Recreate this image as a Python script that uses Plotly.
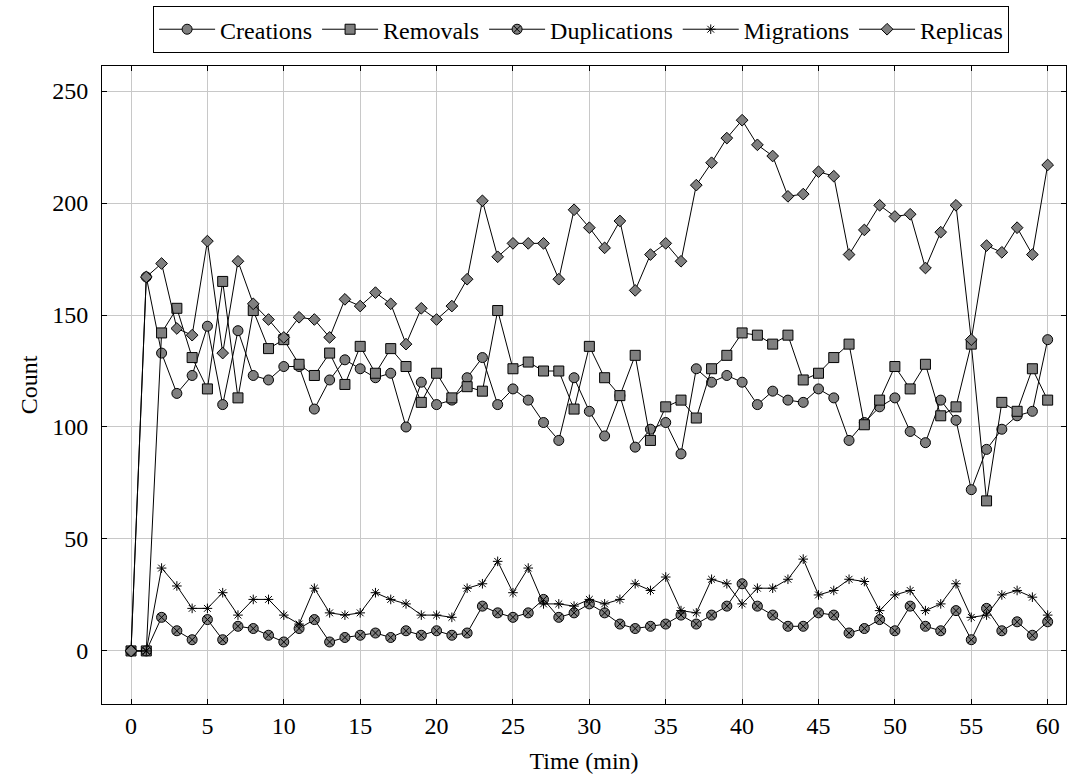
import plotly.graph_objects as go

time_min = list(range(0, 61))

creations = [0, 167, 133, 115, 123, 145, 110, 143, 123, 121, 127, 127, 108, 121, 130, 126,
             122, 124, 100, 120, 110, 112, 122, 131, 110, 117, 112, 102, 94, 122, 107,
             96, 114, 91, 99, 102, 88, 126, 120, 123, 120, 110, 116, 112, 111, 117,
             113, 94, 102, 109, 113, 98, 93, 112, 103, 72, 90, 99, 105, 107, 139]

removals = [0, 0, 142, 153, 131, 117, 165, 113, 152, 135, 139, 128, 123, 133, 119, 136,
            124, 135, 127, 111, 124, 113, 118, 116, 152, 126, 129, 125, 125, 108, 136,
            122, 114, 132, 94, 109, 112, 104, 126, 132, 142, 141, 137, 141, 121, 124,
            131, 137, 101, 112, 127, 117, 128, 105, 109, 137, 67, 111, 107, 126, 112]

duplications = [0, 0, 15, 9, 5, 14, 5, 11, 10, 7, 4, 10, 14, 4, 6, 7,
                8, 6, 9, 7, 9, 7, 8, 20, 17, 15, 17, 23, 15, 17, 21,
                17, 12, 10, 11, 12, 16, 12, 16, 20, 30, 20, 16, 11, 11, 17,
                16, 8, 10, 14, 9, 20, 11, 9, 18, 5, 19, 9, 13, 7, 13]

migrations = [0, 0, 37, 29, 19, 19, 26, 16, 23, 23, 16, 12, 28, 17, 16, 17,
              26, 23, 21, 16, 16, 15, 28, 30, 40, 26, 37, 21, 21, 20, 23,
              21, 23, 30, 27, 33, 18, 17, 32, 30, 21, 28, 28, 32, 41, 25,
              27, 32, 31, 18, 25, 27, 18, 21, 30, 15, 16, 25, 27, 24, 16]

replicas = [0, 167, 173, 144, 141, 183, 133, 174, 155, 148, 140, 149, 148, 140, 157, 154,
            160, 155, 137, 153, 148, 154, 166, 201, 176, 182, 182, 182, 166, 197, 189,
            180, 192, 161, 177, 182, 174, 208, 218, 229, 237, 226, 221, 203, 204, 214,
            212, 177, 188, 199, 194, 195, 171, 187, 199, 139, 181, 178, 189, 177, 217]

x_ticks = list(range(0, 61, 5))
y_ticks = list(range(0, 251, 50))

FILL = "#7f7f7f"
FONT = "Liberation Serif, Times New Roman, serif"
FS = 24

fig = go.Figure()

def add(name, y, symbol, size, color=FILL, lw=1):
    fig.add_trace(go.Scatter(
        x=time_min, y=y, name=name, mode="lines+markers",
        line=dict(color="black", width=1),
        marker=dict(symbol=symbol, size=size, color=color,
                    line=dict(color="black", width=lw)),
    ))

add("Creations", creations, "circle", 10)
add("Removals", removals, "square", 10)
add("Duplications", duplications, "circle-x", 10)
add("Migrations", migrations, "asterisk-open", 8, color="black", lw=1)
add("Replicas", replicas, "diamond", 9)

fig.update_layout(
    width=1070, height=782,
    margin=dict(l=102, r=4, t=66, b=78, autoexpand=False),
    paper_bgcolor="white", plot_bgcolor="white",
    font=dict(family=FONT, size=FS, color="black"),
    showlegend=True,
    legend=dict(orientation="h", x=0.497, xanchor="center", y=1.057, yanchor="middle",
                bordercolor="black", borderwidth=1, bgcolor="white",
                font=dict(family=FONT, size=FS), itemwidth=56, tracegroupgap=0),
)

fig.update_xaxes(
    range=[-1.9, 61.2], tickvals=x_ticks, ticktext=[str(v) for v in x_ticks],
    showgrid=True, gridcolor="#c8c8c8", gridwidth=1, zeroline=False,
    showline=True, linecolor="black", linewidth=1, mirror="ticks",
    ticks="inside", ticklen=5, tickcolor="black",
    title=dict(text="Time (min)", font=dict(family=FONT, size=FS), standoff=14),
    tickfont=dict(family=FONT, size=FS), ticklabelstandoff=0,
)
fig.update_yaxes(
    range=[-23.7, 261.2], tickvals=y_ticks, ticktext=[str(v) for v in y_ticks],
    showgrid=True, gridcolor="#c8c8c8", gridwidth=1, zeroline=False,
    showline=True, linecolor="black", linewidth=1, mirror="ticks",
    ticks="inside", ticklen=5, tickcolor="black",
    title=dict(text="Count", font=dict(family=FONT, size=FS), standoff=7),
    tickfont=dict(family=FONT, size=FS), ticklabelstandoff=8,
)

fig.write_html("out.html")
